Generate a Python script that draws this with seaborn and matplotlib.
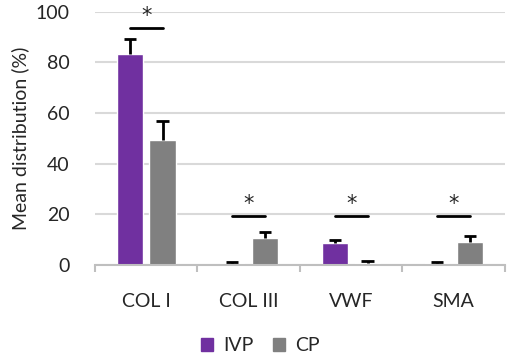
import numpy as np
import pandas as pd
import matplotlib.pyplot as plt
import seaborn as sns
from matplotlib.patches import Patch

# values
markers = ['COL I', 'COL III', 'VWF', 'SMA']
ivp_mean = [83.4, 0.6, 8.6, 0.6]
ivp_err = [6.0, 0.4, 1.3, 0.4]
cp_mean = [49.4, 10.8, 0.9, 9.1]
cp_err = [7.6, 2.4, 0.6, 2.5]
sig_height = [93.7, 19.4, 19.4, 19.4]

df = pd.DataFrame({
    'Marker': markers * 2,
    'Group': ['IVP'] * 4 + ['CP'] * 4,
    'Mean': ivp_mean + cp_mean,
})
errs = ivp_err + cp_err

sns.set_style('white')
plt.rcParams['font.family'] = ['Lato', 'DejaVu Sans']
fs = 14

fig = plt.figure(figsize=(5.1, 3.59), dpi=100)
ax = fig.add_axes([0.186, 0.262, 0.804, 0.705])

sns.barplot(data=df, x='Marker', y='Mean', hue='Group',
            palette={'IVP': '#7030A0', 'CP': '#808080'}, saturation=1,
            width=0.64, gap=0.2, ax=ax, legend=False, zorder=2)

# error bars, plus direction only (Excel style)
bars = ax.patches[:8]
for p, e in zip(bars, errs):
    cx = p.get_x() + p.get_width() / 2
    h = p.get_height()
    ax.vlines(cx, h, h + e, color='black', lw=2, zorder=3)
    ax.hlines(h + e, cx - 0.06, cx + 0.06, color='black', lw=2, zorder=3)

# significance bars
for i, y in enumerate(sig_height):
    ax.plot([i - 0.16, i + 0.16], [y, y], color='black', lw=2, zorder=3)
    ax.text(i, y + 0.8, '*', ha='center', va='bottom', fontsize=15,
            family='DejaVu Sans')

ax.set_ylim(0, 100)
ax.set_xlim(-0.5, 3.5)
ax.set_yticks(range(0, 101, 20))
ax.yaxis.grid(True, color='#D9D9D9', lw=1.5)
ax.set_axisbelow(True)
for s in ['left', 'right', 'top']:
    ax.spines[s].set_visible(False)
ax.spines['bottom'].set_color('#BFBFBF')
ax.spines['bottom'].set_linewidth(1.5)

ax.set_xticks(np.arange(-0.5, 4, 1), minor=True)
ax.tick_params(axis='x', which='minor', length=5, width=1.5, color='#BFBFBF',
               direction='out', bottom=True)
ax.tick_params(axis='x', which='major', length=0, pad=20, labelsize=fs)
ax.tick_params(axis='y', length=0, pad=18, labelsize=fs)

ax.set_xlabel('')
ax.set_ylabel('Mean distribution (%)', fontsize=fs, labelpad=5)

handles = [Patch(color='#7030A0', label='IVP'), Patch(color='#808080', label='CP')]
fig.legend(handles=handles, loc='lower center', ncol=2, frameon=False,
           bbox_to_anchor=(0.51, -0.035), fontsize=fs, handlelength=0.65,
           handleheight=0.65, handletextpad=0.5, columnspacing=1.0)

fig.savefig('out.png', dpi=100)
